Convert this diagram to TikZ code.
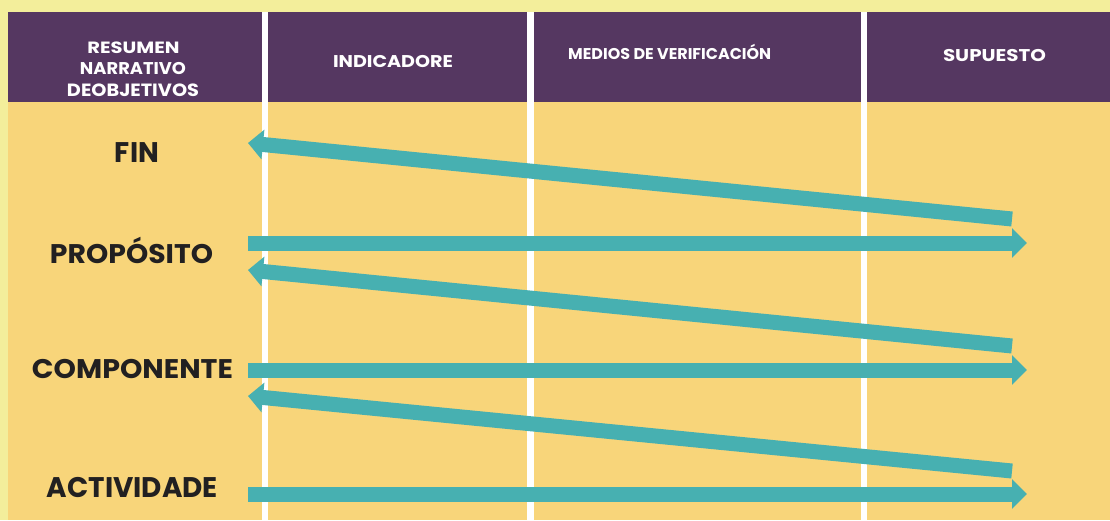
\documentclass[tikz,border=0pt]{standalone}
\usepackage{graphicx}
\usepackage{fontspec}
\setmainfont{Poppins}
\usetikzlibrary{arrows.meta}
\definecolor{bgpale}{HTML}{F3EE9B}
\definecolor{hdrpurple}{HTML}{553761}
\definecolor{bodyyellow}{HTML}{F8D57A}
\definecolor{teal}{HTML}{47B0B1}
\definecolor{darktext}{HTML}{222021}
% scale a caps-only text to a given width and cap height
\newcommand\capfit[3]{\resizebox{#1}{#2}{\raisebox{0pt}[\fontcharht\font`H][0pt]{#3}}}
\tikzset{
  hdrtext/.style={text=white, font=\fontsize{16}{20}\selectfont\bfseries, inner sep=0pt, anchor=base},
  rowtext/.style={text=darktext, font=\fontsize{27}{30}\selectfont\bfseries, inner sep=0pt, anchor=base},
  flowarrow/.style={draw=teal, line width=15pt, -{Triangle[length=15pt,width=29pt]}},
  sepbar/.style={fill=white, draw=none}
}
\begin{document}
\begin{tikzpicture}[x=1pt,y=-1pt]
\useasboundingbox (0,0) rectangle (1110,520);
\fill[bgpale] (0,0) rectangle (1110,520);
\fill[hdrpurple] (8,12) rectangle (1110,102);
\fill[bodyyellow] (8,102) rectangle (1110,520);
\fill[sepbar] (262,12) rectangle (268,520);
\fill[sepbar] (527,12) rectangle (534,520);
\fill[sepbar] (861,12) rectangle (867,520);

\node[hdrtext] (h1a) at (133.5,53.5) {\capfit{92pt}{11.5pt}{RESUMEN}};
\node[hdrtext] (h1b) at (133,74.5) {\capfit{106pt}{12pt}{NARRATIVO}};
\node[hdrtext] (h1c) at (133,96) {\capfit{132pt}{12.5pt}{DEOBJETIVOS}};
\node[hdrtext] (h2) at (393,67) {\capfit{120pt}{12pt}{INDICADORE}};
\node[hdrtext, anchor=base west] (h3) at (568,59.5) {\capfit{203pt}{11pt}{MEDIOS DE VERIFICACIÓN}};
\node[hdrtext] (h4) at (994.5,61) {\capfit{103pt}{12pt}{SUPUESTO}};

\node[rowtext] (fin) at (137,162) {\capfit{44pt}{20pt}{FIN}};
\node[rowtext] (prop) at (131.5,263) {\capfit{163pt}{19pt}{PROPÓSITO}};
\node[rowtext] (comp) at (132.5,378) {\capfit{201pt}{19pt}{COMPONENTE}};
\node[rowtext] (act) at (132.5,497) {\capfit{171pt}{20pt}{ACTIVIDADE}};

\coordinate (pL) at (248,243);  \coordinate (pR) at (1027,243);
\coordinate (cL) at (248,370);  \coordinate (cR) at (1027,370);
\coordinate (aL) at (248,494);  \coordinate (aR) at (1027,494);
\coordinate (d1R) at (1012,219); \coordinate (d1L) at (248,143);
\coordinate (d2R) at (1012,346); \coordinate (d2L) at (248,270);
\coordinate (d3R) at (1012,471); \coordinate (d3L) at (248,396);

\draw[flowarrow] (d1R) -- (d1L);
\draw[flowarrow] (pL) -- (pR);
\draw[flowarrow] (d2R) -- (d2L);
\draw[flowarrow] (cL) -- (cR);
\draw[flowarrow] (d3R) -- (d3L);
\draw[flowarrow] (aL) -- (aR);
\end{tikzpicture}
\end{document}
